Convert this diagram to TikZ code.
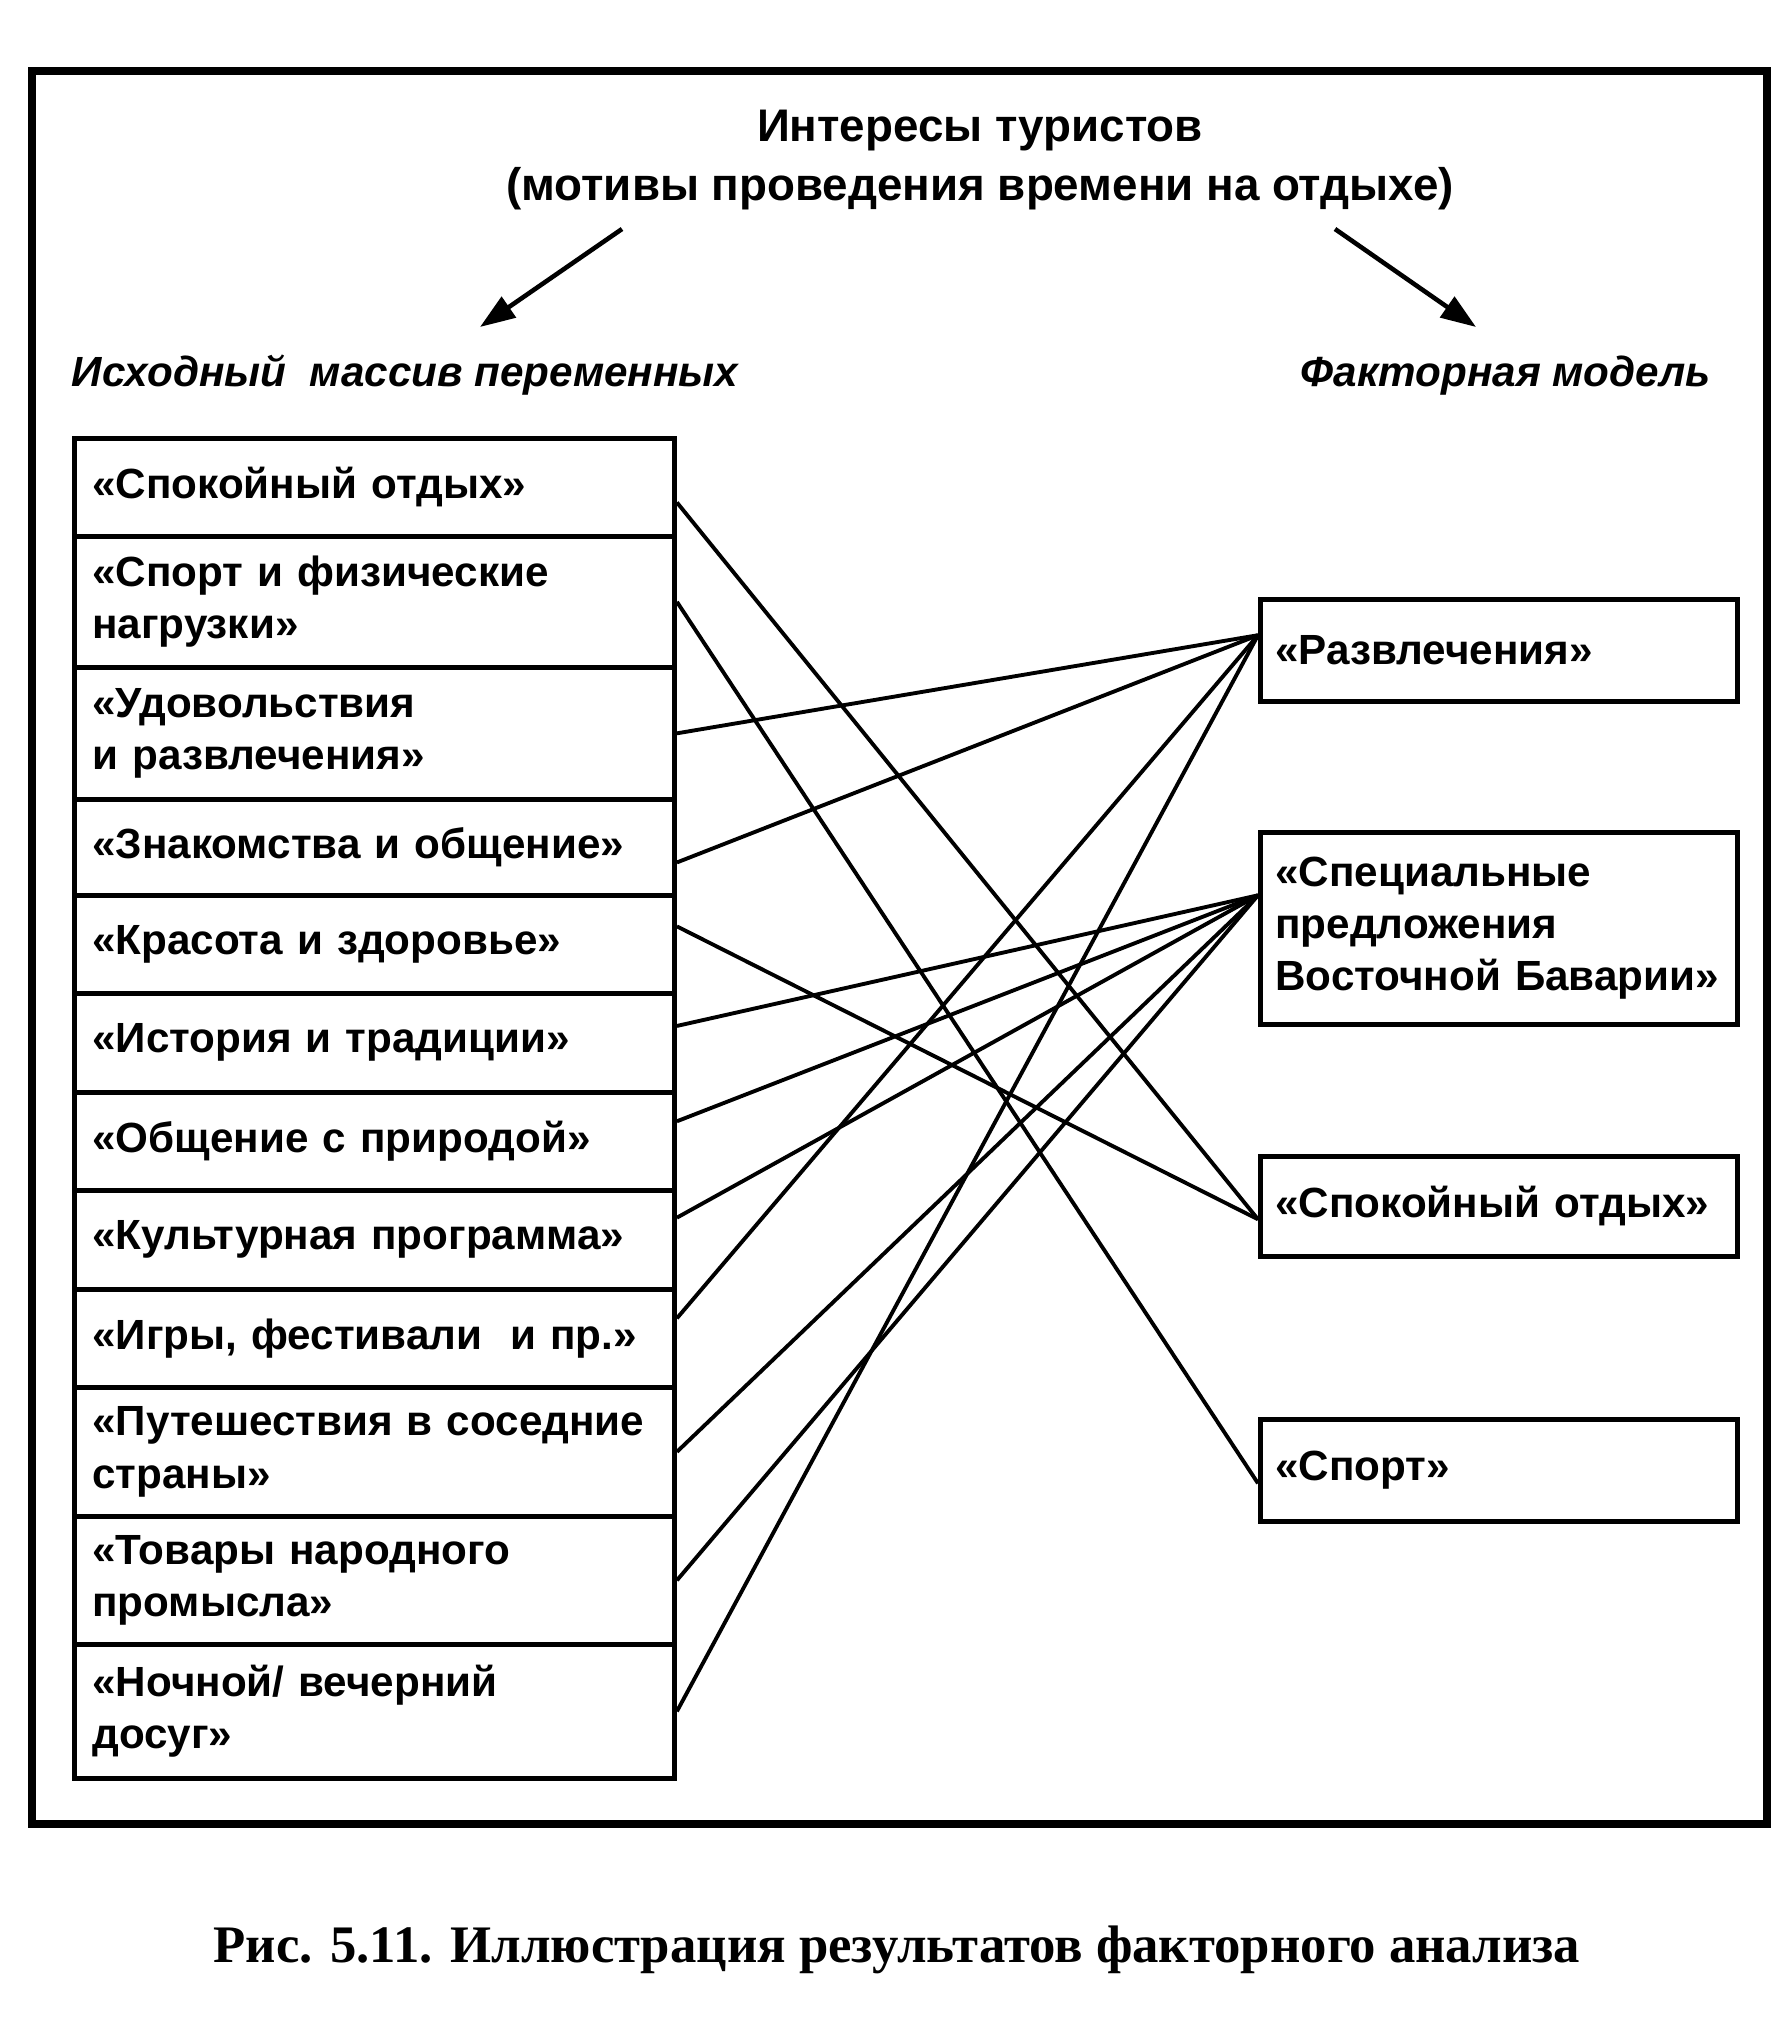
\documentclass[tikz,border=0pt]{standalone}
\usepackage{fontspec}
\setmainfont{Liberation Sans}
\newfontfamily\capfont{Liberation Serif}
\usepackage{tikz}
\usetikzlibrary{
	arrows.meta
}

\tikzset{
	varbox/.style={draw, line width=1.3pt, anchor=north west, text width=5.64cm,
		inner xsep=0.18cm, inner ysep=0pt, align=left,
		font=\bfseries\fontsize{12}{14.8}\selectfont},
	facbox/.style={varbox, text width=4.47cm, inner xsep=0.15cm},
	link/.style={line width=1.1pt},
	head/.style={anchor=base west, inner sep=0pt, font=\bfseries\itshape\fontsize{12}{15}\selectfont}
}

\begin{document}
\begin{tikzpicture}[x=0.01cm, y=-0.01cm]
		\useasboundingbox (0,0) rectangle (1784,2018);
		
		% 外框
		\draw[line width=2.4pt] (32,71) rectangle (1767,1824);
		
		% 标题
		\node[align=center, font=\bfseries\fontsize{13}{17}\selectfont] (interests) at (980,160)
			{Интересы туристов\\(мотивы проведения времени на отдыхе)};
		\node[head] (source) at (71,386) {Исходный\ \ массив переменных};
		\node[head] (model) at (1300,386) {Факторная модель};
		
		% 箭头
		\coordinate (a1) at (622,229);
		\coordinate (a2) at (480,327);
		\coordinate (b1) at (1335,229);
		\coordinate (b2) at (1476,327);
		\draw[line width=1.3pt, -{Triangle[length=10pt, width=7pt]}] (a1) -- (a2);
		\draw[line width=1.3pt, -{Triangle[length=10pt, width=7pt]}] (b1) -- (b2);
		
		% 左列 (变量)
		\node[varbox, minimum height=0.98cm] (l1) at (72,436) {«Спокойный отдых»};
		\node[varbox, minimum height=1.31cm] (l2) at (72,534) {«Спорт и физические\\нагрузки»};
		\node[varbox, minimum height=1.32cm] (l3) at (72,665) {«Удовольствия\\и развлечения»};
		\node[varbox, minimum height=0.96cm] (l4) at (72,797) {«Знакомства и общение»};
		\node[varbox, minimum height=0.98cm] (l5) at (72,893) {«Красота и здоровье»};
		\node[varbox, minimum height=0.99cm] (l6) at (72,991) {«История и традиции»};
		\node[varbox, minimum height=0.98cm] (l7) at (72,1090) {«Общение с природой»};
		\node[varbox, minimum height=0.99cm] (l8) at (72,1188) {«Культурная программа»};
		\node[varbox, minimum height=0.98cm] (l9) at (72,1287) {«Игры, фестивали\ \ и пр.»};
		\node[varbox, minimum height=1.29cm] (l10) at (72,1385) {«Путешествия в соседние\\страны»};
		\node[varbox, minimum height=1.28cm] (l11) at (72,1514) {«Товары народного\\промысла»};
		\node[varbox, minimum height=1.34cm] (l12) at (72,1642) {«Ночной/ вечерний\\досуг»};
		
		% 右列 (因子)
		\node[facbox, minimum height=1.02cm] (f1) at (1258,597) {«Развлечения»};
		\node[facbox, minimum height=1.92cm] (f2) at (1258,830) {«Специальные\\предложения\\Восточной Баварии»};
		\node[facbox, minimum height=1.00cm] (f3) at (1258,1154) {«Спокойный отдых»};
		\node[facbox, minimum height=1.02cm] (f4) at (1258,1417) {«Спорт»};
		
		% 连线
		\draw[link] ([yshift=-4.3pt]l1.east) -- ([yshift=-3.7pt]f3.west);
		\draw[link] (l2.east) -- ([yshift=-3.7pt]f4.west);
		\draw[link] (l3.east) -- ([yshift=4.3pt]f1.west);
		\draw[link] ([yshift=-4.3pt]l4.east) -- ([yshift=4.3pt]f1.west);
		\draw[link] ([yshift=5.1pt]l5.east) -- ([yshift=-3.7pt]f3.west);
		\draw[link] ([yshift=4.8pt]l6.east) -- ([yshift=9.4pt]f2.west);
		\draw[link] ([yshift=5.7pt]l7.east) -- ([yshift=9.4pt]f2.west);
		\draw[link] ([yshift=6.3pt]l8.east) -- ([yshift=9.4pt]f2.west);
		\draw[link] ([yshift=5.7pt]l9.east) -- ([yshift=4.3pt]f1.west);
		\draw[link] (l10.east) -- ([yshift=9.4pt]f2.west);
		\draw[link] (l11.east) -- ([yshift=9.4pt]f2.west);
		\draw[link] (l12.east) -- ([yshift=4.3pt]f1.west);
		
		% 图注
		\node[anchor=base, font=\capfont\bfseries\fontsize{15}{18}\selectfont] (caption) at (897,1962)
			{Рис. 5.11. Иллюстрация результатов факторного анализа};
	\end{tikzpicture}
\end{document}
